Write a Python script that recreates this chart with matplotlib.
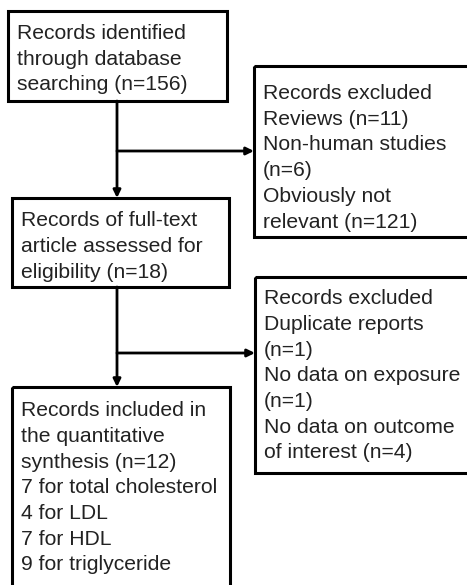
import matplotlib
matplotlib.use("Agg")
import matplotlib.pyplot as plt
from matplotlib.patches import Rectangle

plt.rcParams['font.family'] = ['Liberation Sans', 'DejaVu Sans']

# box texts
identified_text = "Records identified\nthrough database\nsearching (n=156)"
excluded1_text = ("Records excluded\nReviews (n=11)\nNon-human studies\n(n=6)\n"
                  "Obviously not\nrelevant (n=121)")
fulltext_text = "Records of full-text\narticle assessed for\neligibility (n=18)"
excluded2_text = ("Records excluded\nDuplicate reports\n(n=1)\nNo data on exposure\n(n=1)\n"
                  "No data on outcome\nof interest (n=4)")
included_text = ("Records included in\nthe quantitative\nsynthesis (n=12)\n"
                 "7 for total cholesterol\n4 for LDL\n7 for HDL\n9 for triglyceride")

W, H = 467, 585
fig = plt.figure(figsize=(W / 100, H / 100), dpi=100)
ax = fig.add_axes([0, 0, 1, 1])
ax.set_xlim(0, W)
ax.set_ylim(H, 0)
ax.axis('off')

# layout (pixels): left, top, right, bottom, text top
boxes = [
    (identified_text, 8, 11, 227, 101, 24),
    (excluded1_text, 254, 66, 475, 237, 84),
    (fulltext_text, 12, 198, 229, 287, 211),
    (excluded2_text, 255, 277, 475, 473, 289),
    (included_text, 12, 387, 230, 595, 401),
]
for txt, l, t, r, b, ty in boxes:
    ax.add_patch(Rectangle((l, t), r - l, b - t, fill=False, ec='black', lw=2.2))
    ax.text(l + 9, ty, txt, ha='left', va='top', fontsize=15.2, color='#222222',
            linespacing=1.45)

arrow = dict(arrowstyle='-|>,head_length=0.45,head_width=0.22', color='black', lw=2,
             shrinkA=0, shrinkB=0)
mx = 117
ax.annotate('', xy=(mx, 198), xytext=(mx, 101), arrowprops=arrow)
ax.annotate('', xy=(mx, 387), xytext=(mx, 287), arrowprops=arrow)
ax.annotate('', xy=(254, 151), xytext=(mx, 151), arrowprops=arrow)
ax.annotate('', xy=(255, 353), xytext=(mx, 353), arrowprops=arrow)

fig.savefig('out.png', dpi=100)
